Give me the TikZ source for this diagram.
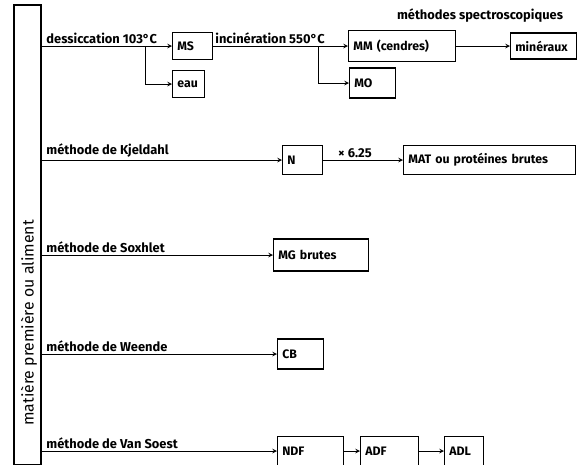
\documentclass[tikz,border=0pt]{standalone}
\usepackage{fontspec}
\setmainfont{Fira Sans}
\usepackage{tikz}
\usetikzlibrary{arrows, positioning}

\begin{document}
\begin{tikzpicture}[
  x=0.03cm, y=-0.03cm,
  box/.style={rectangle, draw, line width=1.1pt, anchor=west, inner xsep=4pt,
              inner ysep=2pt, align=left, font=\fontsize{10.5}{11}\selectfont\bfseries},
  lbl/.style={inner sep=1pt, anchor=south west,
              font=\fontsize{11}{12}\selectfont\bfseries},
  arrow/.style={->, >=stealth, line width=0.8pt}
]
\useasboundingbox (0,0) rectangle (582,464);

% produit de depart
\node[draw, line width=1.3pt, minimum width=0.81cm, minimum height=13.8cm]
  (src) at (27.5,235) {};
\node[rotate=90, font=\fontsize{13.5}{14}\selectfont] (srctxt) at (29,323)
  {matière première ou aliment};

% ligne 1 : cendres
\node[box, text width=0.92cm, minimum height=0.81cm] (ms) at (172,46) {MS};
\node[box, text width=0.68cm, minimum height=0.81cm] (eau) at (172,84) {eau};
\node[box, text width=2.93cm, minimum height=0.93cm] (mm) at (348,46) {MM (cendres)};
\node[box, text width=1.1cm, minimum height=0.9cm] (mo) at (349,83) {MO};
\node[box, text width=1.7cm, minimum height=0.78cm] (min) at (510,46) {minéraux};
\node[lbl, anchor=south] (spec) at (480,24) {méthodes spectroscopiques};
\node[lbl] (dess) at (45,45) {dessiccation 103°C};
\node[lbl] (inci) at (214,45) {incinération 550°C};
\coordinate (b1) at (145,46);
\coordinate (b2) at (318,46);

% ligne 2 : azote
\node[box, text width=0.92cm, minimum height=0.87cm] (n) at (282,160) {N};
\node[box, text width=4.88cm, minimum height=0.87cm] (mat) at (403,160) {MAT ou protéines brutes};
\node[lbl] (kjel) at (45,159) {méthode de Kjeldahl};
\node[lbl, anchor=south] (fact) at (355,159) {× 6.25};

% ligne 3 : matieres grasses
\node[box, text width=2.57cm, minimum height=0.96cm] (mg) at (273,255) {MG brutes};
\node[lbl] (soxh) at (45,254) {méthode de Soxhlet};

% ligne 4 : cellulose brute
\node[box, text width=1.1cm, minimum height=0.9cm] (cb) at (277,354) {CB};
\node[lbl] (ween) at (45,353) {méthode de Weende};

% ligne 5 : fibres
\node[box, text width=1.7cm, minimum height=0.87cm] (ndf) at (277,451) {NDF};
\node[box, text width=1.46cm, minimum height=0.87cm] (adf) at (360,451) {ADF};
\node[box, text width=0.89cm, minimum height=0.87cm] (adl) at (444,451) {ADL};
\node[lbl] (vans) at (45,450) {méthode de Van Soest};

\draw[arrow] (src.east |- ms) -- (ms);
\draw[arrow] (b1) |- (eau);
\draw[arrow] (ms) -- (mm);
\draw[arrow] (b2) |- (mo);
\draw[arrow] (mm) -- (min);
\draw[arrow] (src.east |- n) -- (n);
\draw[arrow] (n) -- (mat);
\draw[arrow] (src.east |- mg) -- (mg);
\draw[arrow] (src.east |- cb) -- (cb);
\draw[arrow] (src.east |- ndf) -- (ndf);
\draw[arrow] (ndf) -- (adf);
\draw[arrow] (adf) -- (adl);
\end{tikzpicture}
\end{document}
